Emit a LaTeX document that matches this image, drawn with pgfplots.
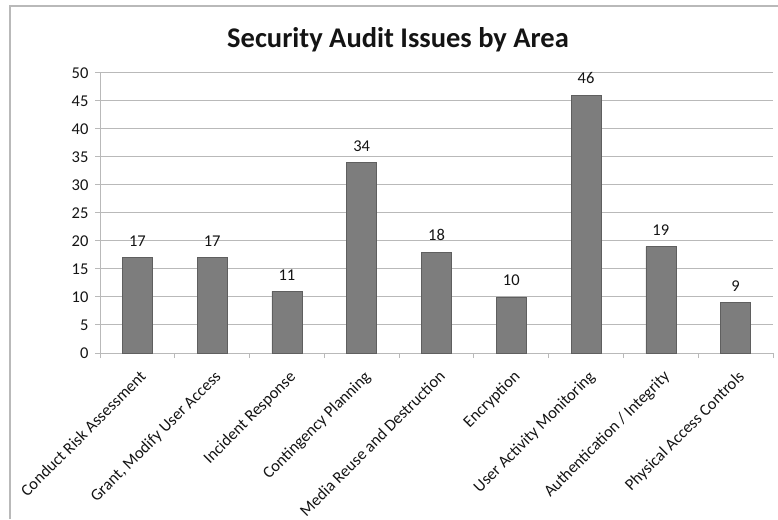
\documentclass[border=0pt]{standalone}
\usepackage{pgfplots}
\pgfplotsset{compat=1.18}
\usepackage{fontspec}
\setmainfont{Carlito}
\definecolor{barfill}{RGB}{125,125,125}
\definecolor{baredge}{RGB}{95,95,95}
\definecolor{gridc}{RGB}{185,185,185}
\definecolor{txt}{RGB}{20,20,20}
\begin{document}
\begin{tikzpicture}[x=1pt,y=1pt]
\path[use as bounding box] (0,0) rectangle (778,519);
\draw[gridc, line width=1.2pt] (10,0) -- (10,513) -- (778,513);
\node[anchor=base, font=\fontsize{28.5}{32}\selectfont\bfseries, text=txt] at (398,471) {Security Audit Issues by Area};
\begin{axis}[
  at={(100pt,166pt)}, anchor=south west,
  scale only axis, width=673pt, height=280pt,
  xmin=0.5, xmax=9.5, ymin=0, ymax=50,
  ytick={0,5,...,50},
  xtick={1,...,9},
  xticklabels={Conduct Risk Assessment, {Grant, Modify User Access}, Incident Response, Contingency Planning, Media Reuse and Destruction, Encryption, User Activity Monitoring, Authentication / Integrity, Physical Access Controls},
  minor xtick={0.5,1.5,...,9.5},
  axis x line*=bottom, axis y line*=left,
  axis line style={gridc, line width=1pt},
  tick align=outside,
  major tick length=5pt, minor tick length=5pt,
  x tick style={draw=none},
  minor x tick style={draw=gridc, line width=1pt},
  y tick style={gridc, line width=1pt},
  ymajorgrids, grid style={gridc, line width=1pt},
  every tick label/.append style={font=\fontsize{16.5}{19}\selectfont, text=txt},
  /pgf/number format/assume math mode=true,
  xticklabel style={rotate=45, anchor=north east, inner sep=1pt, xshift=-6pt, yshift=-8pt},
  yticklabel style={xshift=-3pt},
  ybar, bar width=30pt,
  nodes near coords,
  every node near coord/.append style={font=\fontsize{16.5}{19}\selectfont, text=txt, inner sep=0pt, yshift=11pt},
  clip=false,
]
\addplot[fill=barfill, draw=baredge, line width=0.6pt] coordinates {
(1,17) (2,17) (3,11) (4,34) (5,18) (6,10) (7,46) (8,19) (9,9)
};
\end{axis}
\end{tikzpicture}
\end{document}
